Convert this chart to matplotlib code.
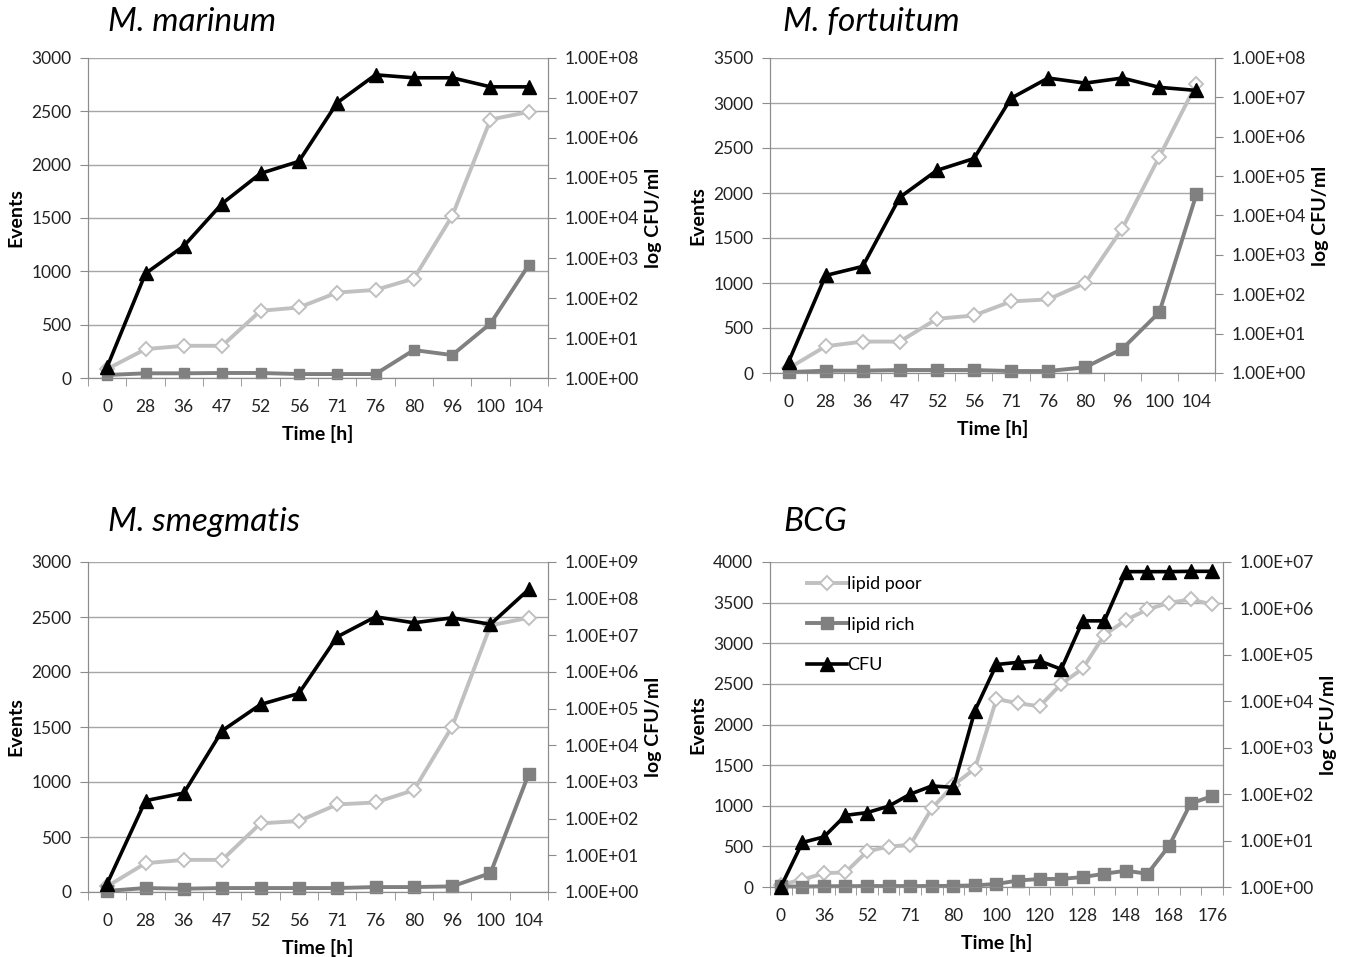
import matplotlib.pyplot as plt
import numpy as np
from matplotlib.ticker import FixedLocator, FuncFormatter, NullLocator

plt.rcParams['font.family'] = ['Lato', 'DejaVu Sans']

# x categories
hours = ['0', '28', '36', '47', '52', '56', '71', '76', '80', '96', '100', '104']
# BCG has 21 sampling points, only every other one is labelled on the axis
bcg_labels = ['0', '36', '52', '71', '80', '100', '120', '128', '148', '168', '176']

# M. marinum
marinum_poor = [84, 271, 302, 302, 630, 661, 801, 826, 932, 1519, 2423, 2495]
marinum_rich = [28, 44, 44, 47, 47, 37, 37, 37, 262, 215, 511, 1060]
marinum_cfu = [1.9e0, 4.1e2, 2.0e3, 2.3e4, 1.3e5, 2.6e5, 7.6e6, 3.8e7, 3.2e7, 3.2e7, 1.9e7, 1.9e7]

# M. fortuitum
fortuitum_poor = [52, 297, 349, 349, 602, 639, 795, 818, 1000, 1605, 2404, 3214]
fortuitum_rich = [10, 26, 26, 33, 33, 33, 22, 22, 63, 268, 676, 1988]
fortuitum_cfu = [1.9e0, 3.0e2, 5.1e2, 2.9e4, 1.4e5, 2.8e5, 9.5e6, 3.1e7, 2.3e7, 3.1e7, 1.8e7, 1.5e7]

# M. smegmatis
smegmatis_poor = [51, 262, 292, 292, 624, 645, 796, 814, 926, 1504, 2424, 2493]
smegmatis_rich = [10, 36, 30, 36, 36, 36, 36, 45, 45, 51, 172, 1076]
smegmatis_cfu = [1.7e0, 3.1e2, 5.0e2, 2.5e4, 1.3e5, 2.6e5, 9.1e6, 3.2e7, 2.2e7, 3.0e7, 2.0e7, 1.8e8]

# BCG
bcg_poor = [30, 90, 170, 180, 437, 498, 518, 967, 1253, 1457, 2314, 2261, 2224,
            2498, 2690, 3102, 3286, 3416, 3498, 3539, 3478]
bcg_rich = [8, 5, 10, 10, 12, 12, 12, 12, 14, 20, 37, 80, 98, 100, 122, 163,
            200, 163, 506, 1028, 1118]
bcg_cfu = [1.0e0, 9.1e0, 1.2e1, 3.5e1, 4.0e1, 5.5e1, 1.0e2, 1.5e2, 1.4e2, 6.3e3,
           6.2e4, 6.9e4, 7.4e4, 4.9e4, 5.4e5, 5.4e5, 6.2e6, 6.2e6, 6.2e6, 6.3e6, 6.3e6]

C_POOR = '#c0c0c0'
C_RICH = '#808080'
C_AXIS = '#8c8c8c'

fig = plt.figure(figsize=(13.45, 9.57), dpi=100)


def panel(rect, title, title_xy, poor, rich, cfu, ymax, ystep, cfu_top,
          xlabels, label_step=1, sq=6.5, legend=False):
    ax = fig.add_axes(rect)
    n = len(poor)
    x = np.arange(n)
    ax.plot(x, poor, color=C_POOR, lw=2.8, marker='D', ms=7.5, mfc='white',
            mec=C_POOR, mew=1.4, label='lipid poor', clip_on=False, zorder=3)
    ax.plot(x, rich, color=C_RICH, lw=2.8, marker='s', ms=sq, mfc=C_RICH,
            mec=C_RICH, label='lipid rich', clip_on=False, zorder=4)
    ax.set_xlim(-0.5, n - 0.5)
    ax.set_ylim(0, ymax)
    ax.set_yticks(np.arange(0, ymax + 1, ystep))
    ax.yaxis.grid(True, color='#a6a6a6', lw=1)
    ax.set_axisbelow(True)
    ax.xaxis.set_major_locator(FixedLocator(list(range(0, n, label_step))))
    ax.set_xticklabels(xlabels)
    ax.xaxis.set_minor_locator(FixedLocator(list(np.arange(-0.5, n, 1.0))))
    ax.tick_params(axis='x', which='major', length=0, pad=15, labelsize=12.5,
                   labelcolor='#222222')
    ax.tick_params(axis='x', which='minor', length=6, color=C_AXIS)
    ax.tick_params(axis='y', length=6, color=C_AXIS, labelsize=12.5, pad=6,
                   labelcolor='#222222')
    ax.spines['top'].set_visible(False)
    for s in ['left', 'bottom', 'right']:
        ax.spines[s].set_color(C_AXIS)
    ax.set_ylabel('Events', fontsize=14, fontweight='bold', labelpad=5)
    ax.set_xlabel('Time [h]', fontsize=14, fontweight='bold', labelpad=7)

    ax2 = ax.twinx()
    ax2.plot(x, cfu, color='black', lw=2.6, marker='^', ms=9.5, label='CFU',
             clip_on=False, zorder=5)
    ax2.set_yscale('log')
    ax2.set_ylim(1, cfu_top)
    ax2.set_yticks([10.0 ** k for k in range(int(np.log10(cfu_top)) + 1)])
    ax2.yaxis.set_minor_locator(NullLocator())
    ax2.yaxis.set_major_formatter(FuncFormatter(lambda v, p: f'{v:.2E}'))
    ax2.tick_params(axis='y', length=6, color=C_AXIS, labelsize=12.5, pad=6,
                    labelcolor='#222222')
    ax2.spines['top'].set_visible(False)
    for s in ['left', 'bottom', 'right']:
        ax2.spines[s].set_color(C_AXIS)
    ax2.set_ylabel('log CFU/ml', fontsize=14, fontweight='bold', labelpad=4)

    fig.text(title_xy[0] / 1345, 1 - title_xy[1] / 957, title, fontsize=24,
             style='italic', ha='left', va='center')

    if legend:
        h1, l1 = ax.get_legend_handles_labels()
        h2, l2 = ax2.get_legend_handles_labels()
        ax2.legend(h1 + h2, l1 + l2, loc='upper left', frameon=False,
                   fontsize=13, labelspacing=1.35, handlelength=2.2,
                   handletextpad=0.0, borderaxespad=0.4,
                   bbox_to_anchor=(0.05, 1.0))
    return ax, ax2


panel([88 / 1345, 1 - 378 / 957, 460 / 1345, 320 / 957], 'M. marinum', (108, 22),
      marinum_poor, marinum_rich, marinum_cfu, 3000, 500, 1e8, hours, sq=6.5)
panel([770 / 1345, 1 - 373 / 957, 445 / 1345, 315 / 957], 'M. fortuitum', (783, 22),
      fortuitum_poor, fortuitum_rich, fortuitum_cfu, 3500, 500, 1e8, hours, sq=8.5)
panel([88 / 1345, 1 - 892 / 957, 460 / 1345, 330 / 957], 'M. smegmatis', (108, 522),
      smegmatis_poor, smegmatis_rich, smegmatis_cfu, 3000, 500, 1e9, hours, sq=8.5)
panel([770 / 1345, 1 - 887 / 957, 453 / 1345, 325 / 957], 'BCG', (783, 522),
      bcg_poor, bcg_rich, bcg_cfu, 4000, 500, 1e7, bcg_labels, label_step=2,
      sq=8.5, legend=True)

fig.savefig('out.png', dpi=100)
